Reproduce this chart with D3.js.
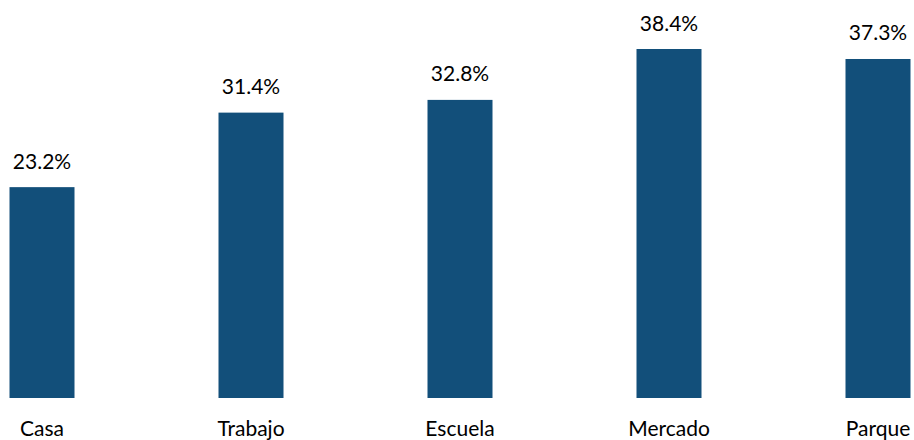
<!DOCTYPE html>
<html><head><meta charset="utf-8">
<script src="https://cdn.jsdelivr.net/npm/d3@7"></script>
<style>html,body{margin:0;padding:0;background:#fff;overflow:hidden}</style>
</head><body>
<svg id="c" width="914" height="440"></svg>
<script>
const categories = ["Casa", "Trabajo", "Escuela", "Mercado", "Parque"];
const values = [23.2, 31.4, 32.8, 38.4, 37.3];
const valueLabels = ["23.2%", "31.4%", "32.8%", "38.4%", "37.3%"];

const svg = d3.select("#c");
const font = "Lato, 'Open Sans', sans-serif";
const x = d3.scaleBand().domain(categories).range([-62.5, 982.5]).paddingInner(0.689).paddingOuter(0.3445);
const y = d3.scaleLinear().domain([0, 38.4]).range([398, 49]);

svg.selectAll("rect.bar").data(categories).enter().append("rect")
  .attr("class", "bar")
  .attr("x", d => x(d))
  .attr("width", x.bandwidth())
  .attr("y", (d, i) => y(values[i]))
  .attr("height", (d, i) => y(0) - y(values[i]))
  .attr("fill", "#124f7a");

svg.selectAll("text.val").data(categories).enter().append("text")
  .attr("class", "val")
  .attr("x", d => x(d) + x.bandwidth() / 2)
  .attr("y", (d, i) => y(values[i]) - 18.5)
  .attr("text-anchor", "middle")
  .attr("font-family", font).attr("font-size", 21).attr("fill", "#000")
  .text((d, i) => valueLabels[i]);

const axis = d3.axisBottom(x).tickSize(0).tickPadding(0);
const g = svg.append("g").attr("transform", "translate(0,398)").call(axis);
g.select(".domain").remove();
g.selectAll("text").attr("font-family", font).attr("font-size", 21).attr("fill", "#000")
  .attr("dy", null).attr("y", 38);
</script>
</body></html>
